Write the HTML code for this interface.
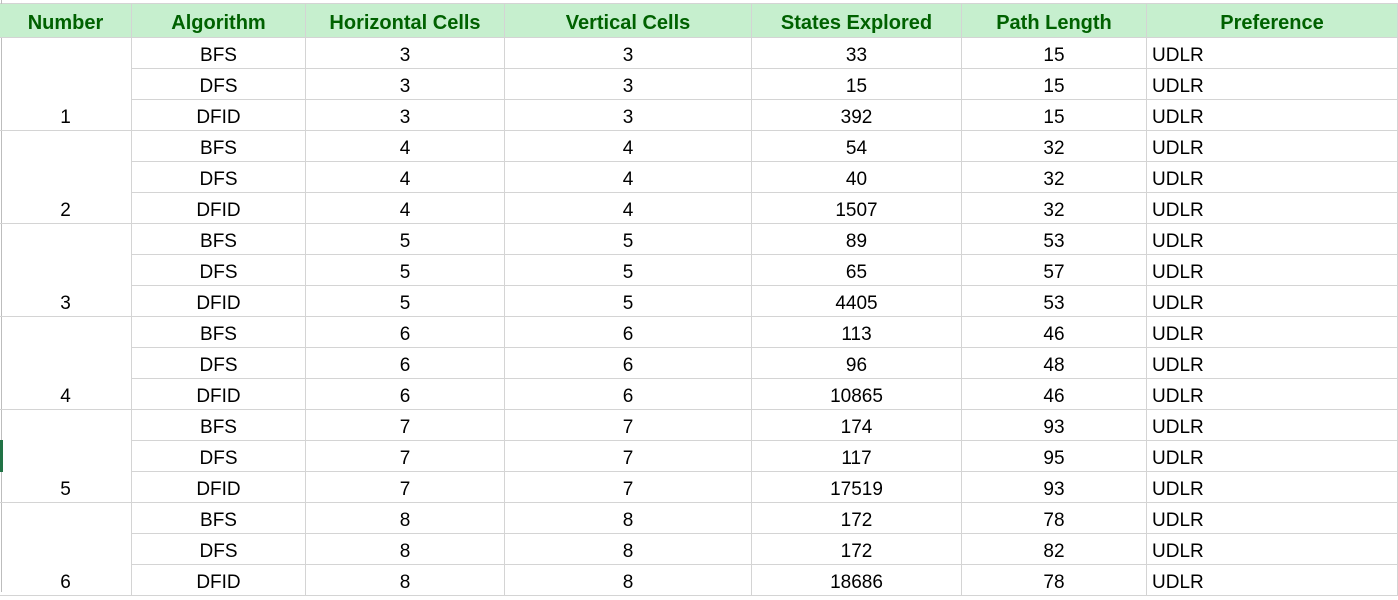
<!DOCTYPE html>
<html><head><meta charset="utf-8"><style>
body{margin:0;width:1398px;height:592px;overflow:hidden;background:#fff;font-family:"Liberation Sans",Arial,sans-serif;position:relative}
.c{position:absolute;box-sizing:border-box;border-right:1px solid #d4d4d4;border-bottom:1px solid #d4d4d4;font-size:19px;color:#000;text-align:center;line-height:35px}
.h{background:#c6efce;color:#006100;font-weight:bold;font-size:20px;line-height:38px;border-color:#d4d4d4}
.l{text-align:left;padding-left:5px}
</style></head><body>
<div style="position:absolute;left:0;top:0;width:1398px;height:4px;border-bottom:1px solid #d4d4d4;box-sizing:border-box"></div>
<div style="position:absolute;left:1px;top:0;width:1px;height:592px;background:#bdbdbd"></div>
<div style="position:absolute;left:0;top:440px;width:3px;height:32px;background:#217346;z-index:2"></div>
<script>
const headers=["Number","Algorithm","Horizontal Cells","Vertical Cells","States Explored","Path Length","Preference"];
const algos=["BFS","DFS","DFID"];
const sizes=[3,4,5,6,7,8];
const states=[33,15,392,54,40,1507,89,65,4405,113,96,10865,174,117,17519,172,172,18686];
const paths=[15,15,15,32,32,32,53,57,53,46,48,46,93,95,93,78,82,78];
const xs=[0,132,306,505,752,962,1147,1398];
const top0=4, hh=34, rh=31;
function cell(x0,x1,y,h,txt,cls,name){
  const d=document.createElement('div');
  d.className='c '+cls;
  d.style.left=x0+'px';d.style.top=y+'px';d.style.width=(x1-x0)+'px';d.style.height=h+'px';
  d.textContent=txt;
  
  
  document.body.appendChild(d);
  return d;
}
headers.forEach((t,i)=>{
  cell(xs[i],xs[i+1],top0,hh,t,'h','header-'+t.toLowerCase().replace(/ /g,'-'));
});
const y0=top0+hh;
sizes.forEach((s,g)=>{
  const d=cell(xs[0],xs[1],y0+g*3*rh,3*rh,String(g+1),'','number-'+(g+1));
  d.style.paddingTop=(2*rh)+'px';
  algos.forEach((a,k)=>{
    const r=g*3+k, y=y0+r*rh;
    cell(xs[1],xs[2],y,rh,a,'','algorithm-'+(r+1));
    cell(xs[2],xs[3],y,rh,String(s),'','horizontal-cells-'+(r+1));
    cell(xs[3],xs[4],y,rh,String(s),'','vertical-cells-'+(r+1));
    cell(xs[4],xs[5],y,rh,String(states[r]),'','states-explored-'+(r+1));
    cell(xs[5],xs[6],y,rh,String(paths[r]),'','path-length-'+(r+1));
    cell(xs[6],xs[7],y,rh,'UDLR','l','preference-'+(r+1));
  });
});
</script>
</body></html>
